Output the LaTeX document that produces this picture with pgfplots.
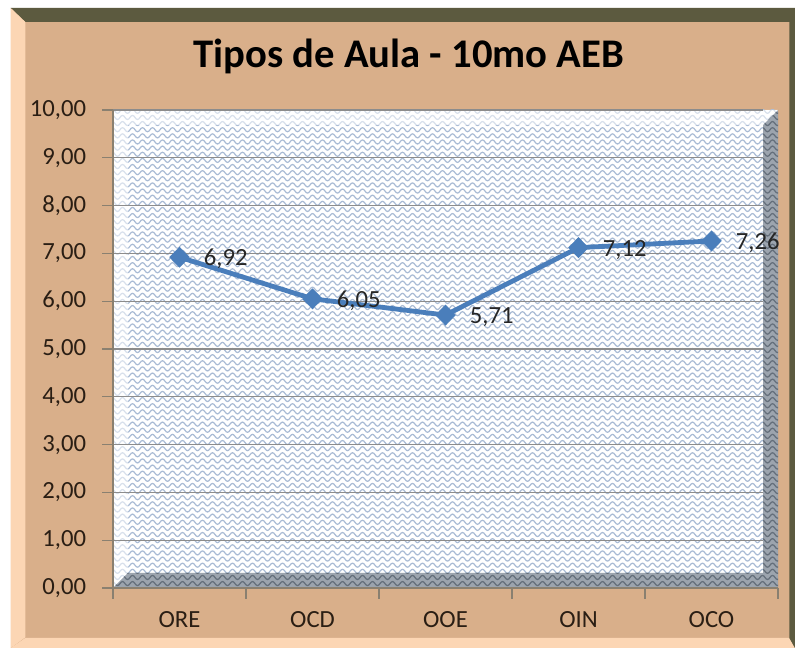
\documentclass[border=0pt]{standalone}
\usepackage{fontspec}
\setmainfont{Carlito}
\usepackage{pgfplots}
\pgfplotsset{compat=1.18}
\usetikzlibrary{patterns}
\definecolor{bgtan}{HTML}{D9AF8A}
\definecolor{olive}{HTML}{5C5A3F}
\definecolor{peach}{HTML}{FCD6B4}
\definecolor{wavec}{HTML}{A9BBD5}
\definecolor{bevdark}{HTML}{77828F}
\definecolor{gridc}{HTML}{8C8C8C}
\definecolor{axisc}{HTML}{8A8070}
\definecolor{linec}{HTML}{4A7EBB}
\definecolor{txtc}{HTML}{2A1E14}
\pgfdeclarepatternformonly{wave}{\pgfqpoint{-1pt}{-1pt}}{\pgfqpoint{9pt}{6pt}}{\pgfqpoint{7.5pt}{4.6pt}}{%
 \pgfsetlinewidth{0.9pt}%
 \pgfpathmoveto{\pgfqpoint{0pt}{2.3pt}}%
 \pgfpathcurveto{\pgfqpoint{1.25pt}{4.3pt}}{\pgfqpoint{2.5pt}{4.3pt}}{\pgfqpoint{3.75pt}{2.3pt}}%
 \pgfpathcurveto{\pgfqpoint{5pt}{0.3pt}}{\pgfqpoint{6.25pt}{0.3pt}}{\pgfqpoint{7.5pt}{2.3pt}}%
 \pgfusepath{stroke}}
\begin{document}
\begin{tikzpicture}[x=1pt,y=1pt]
\useasboundingbox (0,0) rectangle (596.25,486);
\fill[white] (0,0) rectangle (596.25,486);
% frame
\fill[bgtan] (8,0) rectangle (596.25,480);
\fill[olive] (8,480) -- (596.25,480) -- (596.25,469.5) -- (19,469.5) -- cycle;
\fill[peach] (8,480) -- (19,469.5) -- (19,8) -- (8,0) -- cycle;
\fill[peach] (8,0) -- (596.25,0) -- (592,7.5) -- (19,7.5) -- cycle;
\fill[olive] (592,7.5) -- (596.25,0) -- (596.25,480) -- (592,469.5) -- cycle;
% title
\node[anchor=base,font=\fontsize{30.5}{34}\bfseries,text=black] at (306.5,435) {Tipos de Aula - 10mo AEB};
% wall
\fill[white] (84.75,45) rectangle (583.5,403.5);
\fill[pattern=wave,pattern color=wavec] (84.75,45) rectangle (583.5,403.5);
% light bevel
\fill[white,opacity=0.55] (84.75,45) -- (96,56.25) -- (96,392.25) -- (572.25,392.25) -- (583.5,403.5) -- (84.75,403.5) -- cycle;
% dark bevel
\fill[bevdark,opacity=0.72] (84.75,45) -- (583.5,45) -- (583.5,403.5) -- (572.25,392.25) -- (572.25,56.25) -- (96,56.25) -- cycle;
\fill[pattern=wave,pattern color=bevdark!60!black,opacity=0.5] (84.75,45) -- (583.5,45) -- (583.5,403.5) -- (572.25,392.25) -- (572.25,56.25) -- (96,56.25) -- cycle;
% gridlines
\foreach \k in {1,...,10} {\draw[gridc,line width=0.8pt] (84.75,{45+35.85*\k}) -- (572.25,{45+35.85*\k});}
\begin{axis}[
 at={(84.75pt,45pt)}, anchor=south west,
 scale only axis, width=498.75pt, height=358.5pt,
 xmin=-0.5, xmax=4.5, ymin=0, ymax=10,
 clip=false,
 axis x line*=bottom, axis y line*=left,
 axis line style={draw=axisc,line width=0.8pt},
 every tick/.style={draw=axisc,line width=0.8pt},
 tick align=outside, major tick length=8pt,
 xtick={-0.5,0.5,1.5,2.5,3.5,4.5},
 xticklabels={ORE,OCD,OOE,OIN,OCO,},
 xticklabel style={xshift=49.875pt,anchor=base,yshift=-22pt},
 ytick={0,1,...,10},
 yticklabel style={anchor=east,inner sep=0pt,xshift=-12pt},
 tick label style={font=\fontsize{18.5}{21}\selectfont,text=txtc},
 /pgf/number format/assume math mode=true,
 yticklabel={\pgfmathprintnumber[fixed,fixed zerofill,precision=2,use comma]{\tick}},
 nodes near coords={\pgfmathprintnumber[fixed,fixed zerofill,precision=2,use comma,assume math mode=true]{\pgfplotspointmeta}},
 nodes near coords align={horizontal},
 every node near coord/.append style={anchor=west,inner sep=0pt,xshift=18pt,yshift=-1.5pt,font=\fontsize{18.5}{21}\selectfont,text=black!85},
]
\addplot[color=linec,line width=3.6pt,mark=diamond*,mark size=7.5pt,mark options={xscale=1.3,fill=linec,draw=linec,line width=0.5pt}]
 coordinates {(0,6.92) (1,6.05) (2,5.71) (3,7.12) (4,7.26)};
\end{axis}
\end{tikzpicture}
\end{document}
